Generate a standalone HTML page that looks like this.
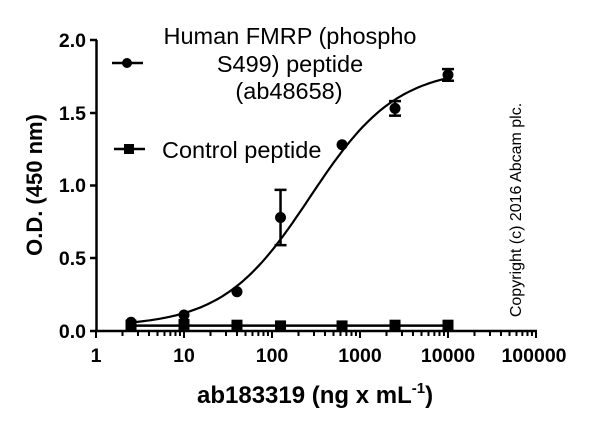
<!DOCTYPE html>
<html><head><style>
html,body{margin:0;padding:0;background:#fff;}
svg{display:block;font-family:"Liberation Sans",Arial,sans-serif;}
</style></head><body>
<svg id="s" width="600" height="430" viewBox="0 0 600 430">
<g stroke="#000" stroke-width="2.5" fill="none">
<line x1="96.5" y1="40" x2="96.5" y2="332"/>
<line x1="95" y1="331" x2="537" y2="331"/>
<line x1="90" y1="40" x2="97" y2="40"/>
<line x1="90" y1="113" x2="97" y2="113"/>
<line x1="90" y1="185.5" x2="97" y2="185.5"/>
<line x1="90" y1="258" x2="97" y2="258"/>
<line x1="90" y1="331" x2="97" y2="331"/>
</g>
<g id="xt" stroke="#000" stroke-width="2"></g>
<g font-weight="bold" font-size="19.5" text-anchor="end">
<text x="86" y="47">2.0</text>
<text x="86" y="120">1.5</text>
<text x="86" y="192">1.0</text>
<text x="86" y="265">0.5</text>
<text x="86" y="338">0.0</text>
</g>
<g font-weight="bold" font-size="19.5" text-anchor="middle">
<text x="96" y="362">1</text>
<text x="184" y="362">10</text>
<text x="272" y="362">100</text>
<text x="360" y="362">1000</text>
<text x="448" y="362">10000</text>
<text x="534" y="362">100000</text>
<text transform="translate(42,185) rotate(-90)" font-size="22">O.D. (450 nm)</text>
</g>
<text x="197" y="403" font-weight="bold" font-size="24">ab183319 (ng x mL<tspan dy="-10" font-size="15">-1</tspan><tspan dy="10">)</tspan></text>
<text transform="translate(521,210) rotate(-90)" text-anchor="middle" font-size="16">Copyright (c) 2016 Abcam plc.</text>
<g font-size="23.5" text-anchor="middle">
<text x="290" y="44">Human FMRP (phospho</text>
<text x="290" y="72">S499) peptide</text>
<text x="289" y="99">(ab48658)</text>
<text x="162" y="158" text-anchor="start">Control peptide</text>
</g>
<g stroke="#000" stroke-width="2.5">
<line x1="112" y1="63" x2="143" y2="63"/>
<line x1="114" y1="149" x2="145" y2="149"/>
</g>
<circle cx="127" cy="63" r="5" fill="#000"/>
<rect x="124" y="144" width="10" height="10" fill="#000"/>
<path id="curve" stroke="#000" stroke-width="2.2" fill="none"/>
<g id="pts"></g>
</svg>
<script>
var X=function(v){return 96+88*Math.log10(v);},Y=function(v){return 331-145.5*v;};
var ns="http://www.w3.org/2000/svg";
function el(t,a,p){var e=document.createElementNS(ns,t);for(var k in a)e.setAttribute(k,a[k]);p.appendChild(e);return e;}
var xt=document.getElementById('xt');
for(var d=0;d<5;d++){for(var m=1;m<10;m++){var x=X(m*Math.pow(10,d));el('line',{x1:x,x2:x,y1:331,y2:m==1?338:336},xt);}}
el('line',{x1:536,x2:536,y1:331,y2:338},xt);
function f(x){return 0.03+1.78/(1+Math.pow(270/x,0.88));}
var d="";for(var i=0;i<=100;i++){var lx=Math.log10(2.5)+i/100*(4-Math.log10(2.5));var v=Math.pow(10,lx);d+=(i?"L":"M")+X(v).toFixed(1)+" "+Y(f(v)).toFixed(1);}
document.getElementById('curve').setAttribute('d',d);
var p=document.getElementById('pts');
var xs=[2.5,10,40,125,625,2500,10000];
var cv=[0.06,0.11,0.27,0.78,1.28,1.53,1.76];
var ce=[0,0,0,0.19,0,0.05,0.04];
var kv=[0.04,0.045,0.04,0.035,0.035,0.04,0.04];
el('line',{x1:X(2.5),x2:X(10000),y1:Y(0.037),y2:Y(0.037),stroke:'#000','stroke-width':2.5},p);
for(var i=0;i<7;i++){var x=X(xs[i]);
 if(ce[i]){el('line',{x1:x,x2:x,y1:Y(cv[i]-ce[i]),y2:Y(cv[i]+ce[i]),stroke:'#000','stroke-width':2.5},p);
  el('line',{x1:x-6,x2:x+6,y1:Y(cv[i]-ce[i]),y2:Y(cv[i]-ce[i]),stroke:'#000','stroke-width':2.5},p);
  el('line',{x1:x-6,x2:x+6,y1:Y(cv[i]+ce[i]),y2:Y(cv[i]+ce[i]),stroke:'#000','stroke-width':2.5},p);}
 el('circle',{cx:x,cy:Y(cv[i]),r:5.5,fill:'#000'},p);
 el('rect',{x:x-5.5,y:Y(kv[i])-5.5,width:11,height:11,fill:'#000'},p);}
</script>
</body></html>
